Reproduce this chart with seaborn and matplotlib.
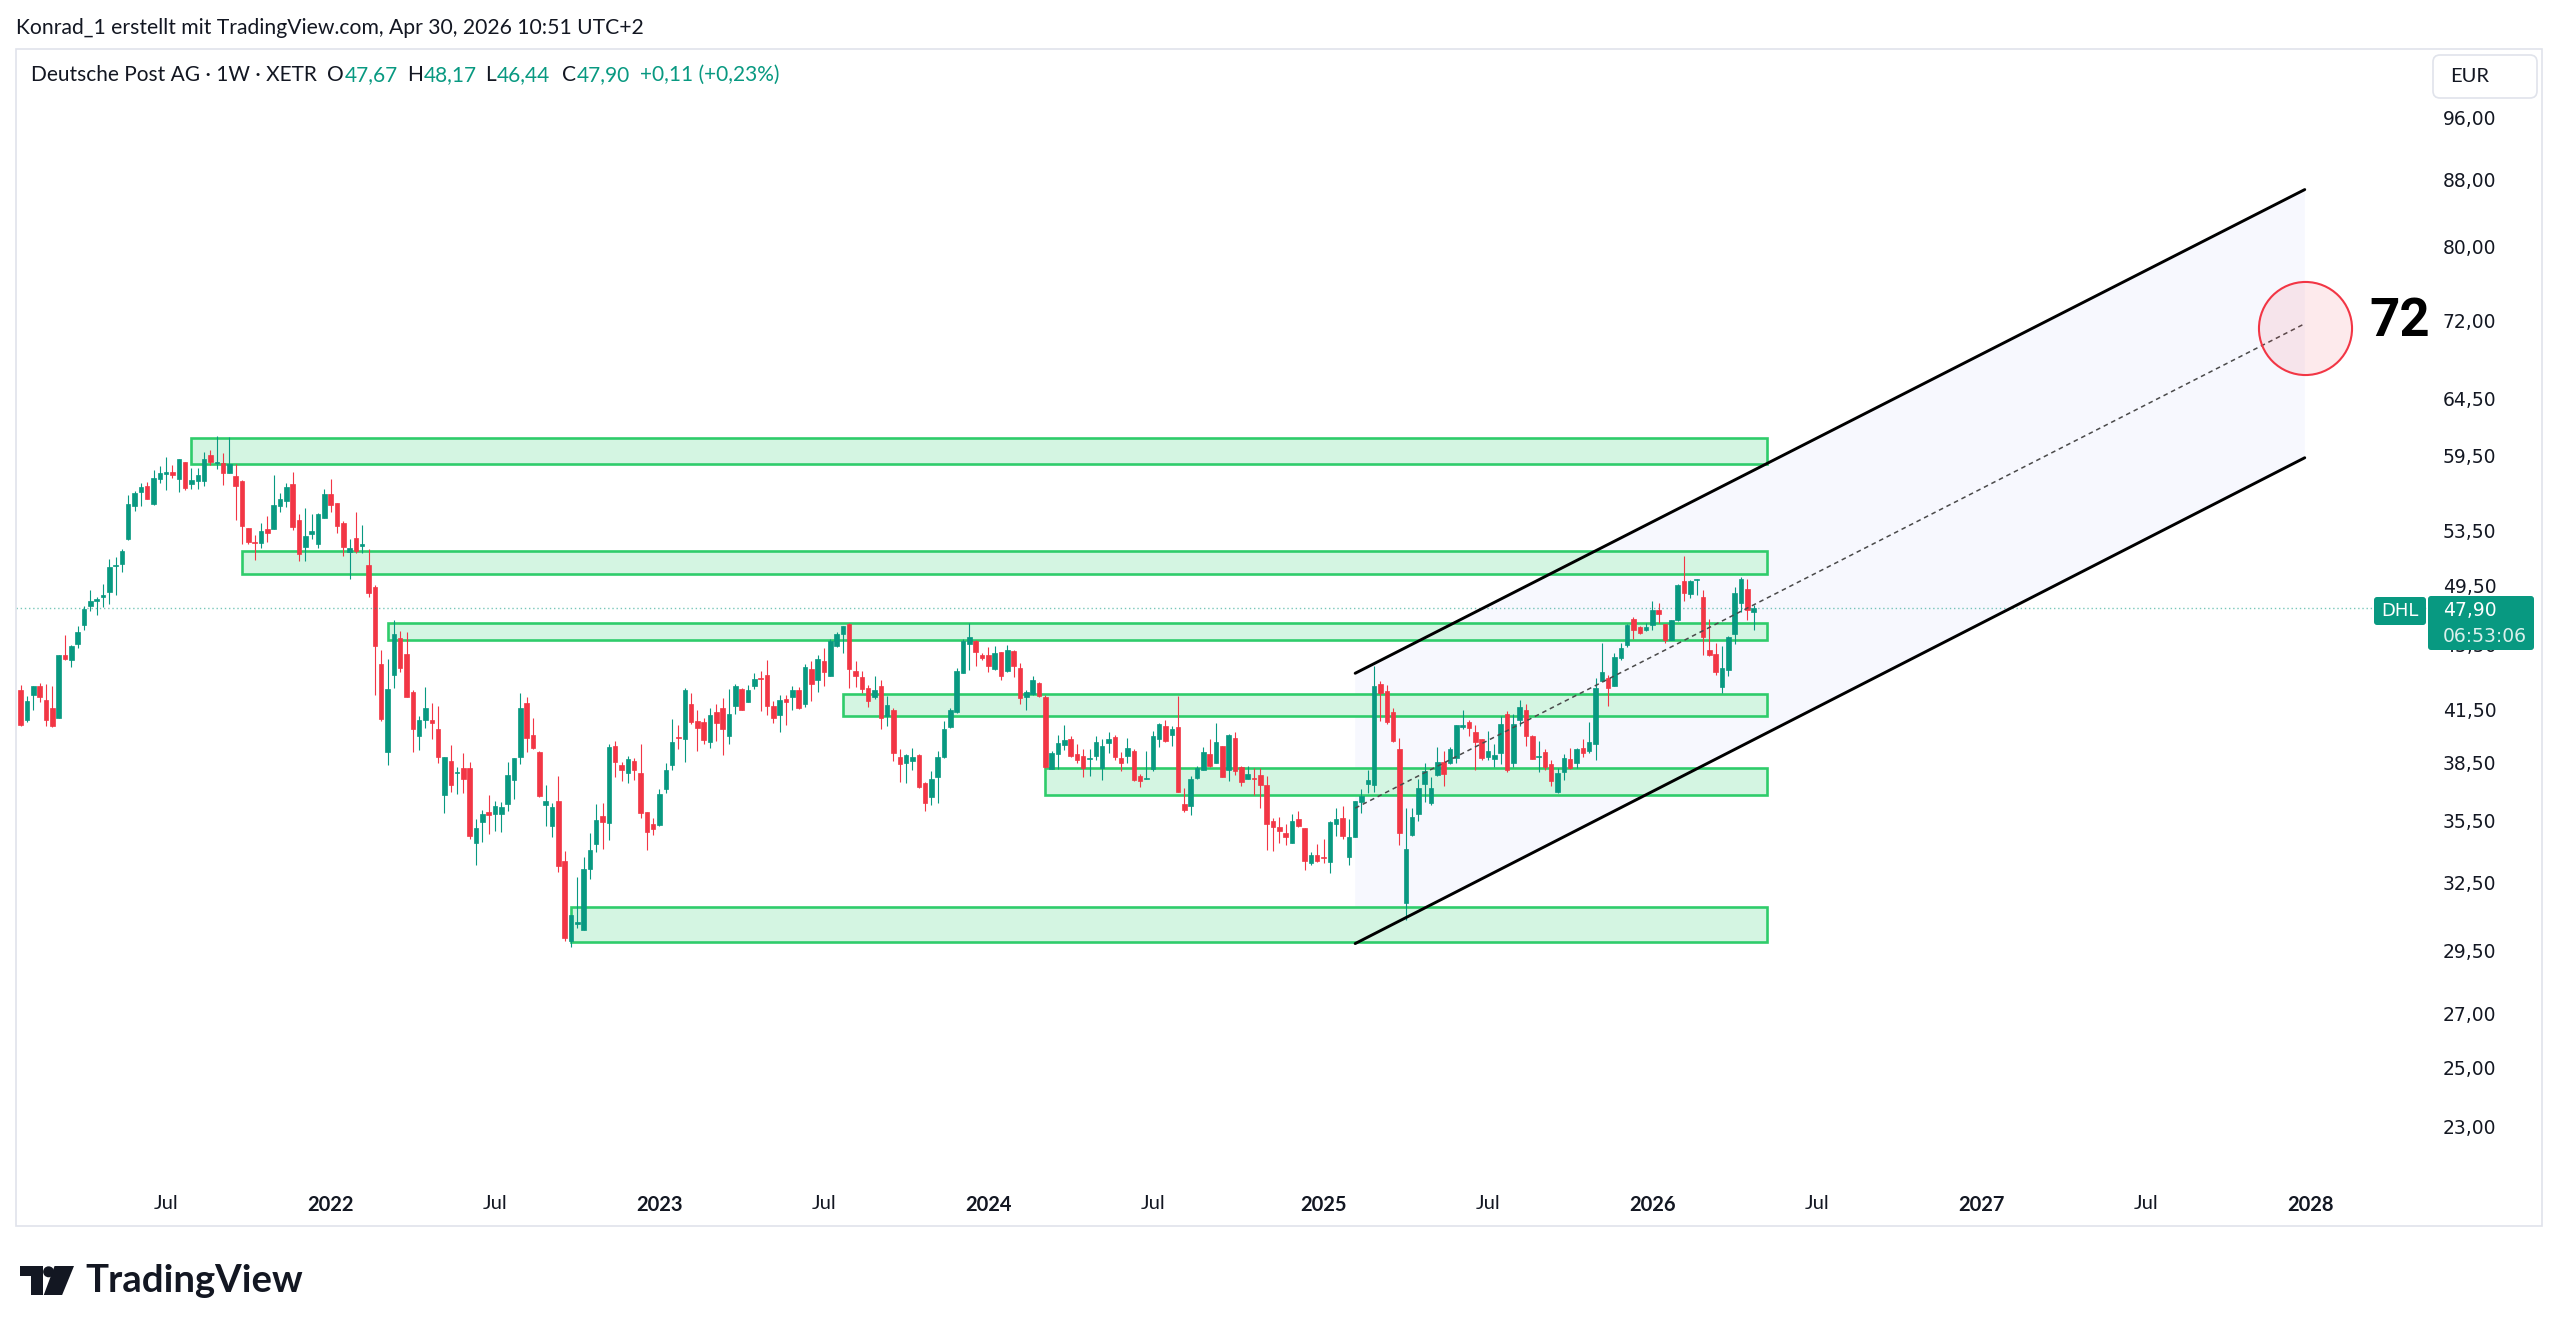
import matplotlib
matplotlib.use("Agg")
import numpy as np
import pandas as pd
import matplotlib.pyplot as plt
import matplotlib.dates as mdates
from matplotlib.patches import Rectangle, Polygon, FancyBboxPatch, Circle
from matplotlib.ticker import NullLocator, FixedLocator, FixedFormatter
from matplotlib.transforms import IdentityTransform
import seaborn as sns

# ---------------- data ----------------
first_week = "2021-01-25"

opens = [
    42.70, 40.89, 42.40, 42.94, 42.10, 41.59, 41.03, 44.85, 44.50, 45.57,
    46.80, 48.05, 48.39, 48.69, 49.03, 50.88, 50.98, 52.84, 55.42, 56.52,
    57.01, 55.55, 57.53, 57.96, 58.15, 57.58, 58.95, 57.14, 57.41, 57.36,
    59.57, 58.85, 58.90, 58.07, 57.80, 57.41, 53.72, 52.66, 52.54, 53.64,
    53.59, 55.39, 55.79, 57.12, 54.32, 52.25, 53.24, 52.49, 54.46, 56.30,
    55.59, 54.05, 51.90, 52.91, 52.30, 50.97, 49.37, 44.28, 39.07, 43.61,
    45.91, 44.90, 42.58, 39.98, 40.90, 40.88, 40.41, 36.76, 38.59, 37.92,
    38.24, 38.21, 34.36, 35.40, 35.90, 35.82, 35.82, 36.31, 37.57, 38.83,
    41.88, 40.06, 39.07, 36.24, 35.18, 36.46, 33.48, 29.89, 30.65, 30.39,
    33.10, 34.33, 35.70, 35.36, 39.45, 38.37, 37.96, 38.57, 37.96, 35.89,
    35.31, 35.24, 37.07, 38.37, 39.94, 39.84, 41.82, 40.83, 40.78, 39.63,
    41.38, 41.61, 40.01, 41.70, 42.76, 41.96, 42.90, 43.43, 43.58, 41.70,
    41.18, 42.16, 42.24, 42.70, 41.86, 43.97, 43.27, 44.45, 43.56, 45.40,
    46.19, 46.86, 43.87, 43.48, 42.78, 42.24, 42.94, 41.12, 41.51, 38.83,
    38.50, 38.61, 38.90, 37.42, 36.69, 37.72, 38.81, 40.49, 41.35, 43.72,
    45.57, 45.77, 44.83, 44.87, 43.97, 45.02, 43.85, 45.13, 44.00, 42.24,
    42.42, 43.11, 42.24, 38.18, 38.99, 39.50, 39.83, 38.96, 38.87, 38.70,
    38.85, 38.23, 39.58, 39.92, 38.77, 38.87, 39.17, 37.78, 37.62, 38.14,
    39.79, 40.54, 40.06, 40.51, 36.30, 36.21, 37.69, 38.10, 38.99, 38.50,
    39.45, 38.10, 39.88, 38.28, 37.64, 37.69, 37.83, 37.30, 35.45, 35.13,
    34.87, 34.38, 35.57, 35.08, 33.42, 33.77, 33.68, 33.47, 35.28, 35.62,
    33.67, 34.67, 36.41, 37.37, 37.28, 43.05, 42.60, 41.38, 39.24, 31.58,
    34.75, 35.79, 37.34, 36.38, 37.83, 38.53, 38.46, 38.77, 40.51, 40.78,
    40.21, 39.83, 38.83, 38.72, 39.05, 41.28, 38.46, 40.93, 41.49, 40.01,
    38.83, 39.08, 38.41, 36.93, 37.99, 38.72, 38.50, 39.30, 39.17, 39.55,
    43.25, 43.41, 42.94, 44.67, 45.51, 47.20, 46.66, 46.45, 46.82, 47.77,
    46.86, 45.83, 47.15, 49.77, 48.89, 49.84, 48.69, 45.19, 44.94, 42.84,
    43.93, 46.21, 48.28, 49.23, 47.67,
]

highs = [
    43.00, 42.34, 42.90, 43.11, 43.05, 42.94, 44.87, 46.16, 45.46, 46.71,
    48.09, 49.14, 48.69, 49.61, 51.37, 51.51, 52.10, 56.26, 56.60, 57.25,
    57.33, 58.24, 58.57, 59.35, 58.70, 59.18, 58.98, 58.43, 58.43, 59.77,
    59.96, 61.17, 59.69, 61.11, 58.76, 57.47, 53.72, 53.16, 54.05, 54.62,
    57.88, 56.39, 57.20, 58.15, 54.79, 55.24, 54.79, 54.85, 56.70, 57.57,
    55.64, 54.19, 52.83, 54.90, 53.91, 52.12, 49.52, 45.18, 44.57, 47.12,
    46.38, 46.34, 42.69, 41.15, 42.84, 41.92, 41.73, 38.83, 39.48, 38.28,
    39.04, 38.53, 35.54, 36.03, 36.78, 36.46, 36.40, 38.55, 38.77, 42.52,
    42.26, 41.04, 39.13, 37.28, 36.36, 37.78, 33.96, 31.05, 32.73, 33.67,
    34.83, 36.32, 36.38, 39.56, 39.69, 38.52, 38.87, 38.75, 39.51, 35.92,
    35.58, 37.07, 38.46, 40.97, 40.60, 42.80, 42.50, 41.51, 41.04, 41.63,
    41.82, 42.22, 42.74, 43.07, 42.82, 43.00, 43.72, 43.83, 44.50, 42.04,
    42.40, 42.40, 42.94, 42.84, 44.29, 44.45, 44.87, 45.31, 45.87, 46.32,
    46.75, 46.93, 44.45, 43.87, 43.00, 43.52, 43.27, 42.30, 41.61, 39.23,
    38.96, 39.32, 38.96, 37.46, 38.03, 39.14, 40.83, 41.61, 44.00, 45.87,
    46.93, 45.83, 45.00, 45.37, 45.45, 45.06, 45.51, 45.15, 44.31, 42.70,
    43.52, 43.19, 42.38, 39.14, 40.04, 40.64, 39.98, 39.56, 39.27, 39.23,
    39.98, 39.79, 40.19, 40.02, 39.08, 39.88, 39.23, 37.87, 39.14, 40.27,
    40.74, 40.89, 40.58, 42.30, 37.12, 37.78, 38.32, 39.36, 39.83, 40.70,
    39.45, 40.10, 40.21, 38.32, 38.32, 38.23, 38.23, 37.78, 35.62, 35.65,
    35.28, 35.78, 35.96, 35.11, 33.94, 34.30, 34.57, 35.45, 36.12, 36.21,
    35.53, 36.49, 37.07, 38.09, 44.14, 43.21, 42.96, 41.61, 39.88, 36.12,
    36.12, 37.60, 38.50, 37.74, 39.36, 39.14, 39.38, 40.64, 41.51, 40.93,
    40.62, 39.83, 40.25, 39.51, 41.13, 41.41, 41.28, 42.10, 41.86, 40.06,
    39.69, 39.23, 38.64, 38.23, 38.96, 39.32, 39.32, 39.83, 40.78, 43.41,
    45.62, 43.62, 44.98, 45.62, 46.89, 47.33, 46.71, 46.93, 48.39, 48.28,
    46.86, 47.15, 49.59, 51.61, 49.89, 49.94, 49.14, 47.20, 45.62, 45.41,
    46.09, 49.37, 50.06, 49.96, 48.17,
]

lows = [
    40.54, 40.80, 41.47, 41.97, 40.58, 40.50, 41.03, 44.52, 44.07, 45.27,
    46.49, 47.73, 47.49, 48.00, 48.21, 48.84, 50.41, 52.79, 55.02, 55.42,
    55.90, 55.50, 57.20, 56.66, 57.61, 56.52, 56.66, 56.74, 56.74, 56.98,
    58.70, 58.35, 57.06, 58.02, 54.26, 52.49, 52.49, 51.27, 52.17, 52.66,
    53.59, 54.95, 55.34, 53.54, 51.20, 51.25, 52.87, 52.22, 54.46, 54.93,
    53.30, 51.59, 49.93, 51.85, 51.83, 48.66, 42.35, 40.87, 38.38, 42.78,
    43.79, 42.26, 39.07, 39.22, 40.43, 39.82, 38.48, 35.85, 36.96, 36.83,
    36.91, 34.57, 33.31, 34.39, 34.78, 34.95, 34.92, 35.96, 36.58, 38.44,
    39.08, 39.26, 36.69, 35.18, 34.66, 32.99, 29.93, 29.64, 30.46, 30.39,
    32.67, 33.95, 34.08, 34.51, 37.74, 37.51, 37.42, 37.56, 35.62, 34.00,
    34.77, 35.19, 36.89, 38.10, 39.27, 38.55, 40.66, 39.14, 39.56, 39.32,
    39.72, 38.91, 39.55, 41.28, 41.49, 41.94, 42.74, 41.41, 41.18, 40.70,
    40.21, 40.60, 41.47, 41.55, 41.65, 42.00, 42.54, 42.90, 43.52, 45.34,
    44.98, 42.80, 42.84, 42.50, 41.65, 42.14, 40.36, 40.54, 38.62, 37.46,
    37.39, 38.09, 37.14, 35.96, 36.25, 36.38, 38.77, 40.45, 41.32, 43.72,
    43.89, 44.18, 44.52, 43.76, 43.93, 43.27, 43.76, 43.48, 41.84, 41.47,
    42.36, 42.26, 38.23, 38.14, 38.18, 39.19, 38.83, 38.50, 37.74, 37.78,
    38.64, 37.56, 39.05, 38.64, 38.03, 38.50, 37.49, 37.21, 37.62, 38.05,
    39.36, 39.64, 39.41, 36.93, 35.91, 35.74, 37.64, 38.09, 38.26, 38.46,
    37.72, 37.51, 37.81, 37.24, 37.60, 36.76, 36.12, 34.02, 33.97, 34.35,
    34.25, 34.35, 35.17, 33.07, 33.29, 33.47, 33.42, 32.94, 34.71, 34.54,
    33.29, 34.67, 35.87, 36.86, 36.93, 40.87, 40.68, 39.64, 34.26, 30.80,
    34.71, 35.45, 36.41, 36.25, 37.78, 37.24, 38.41, 38.50, 40.36, 39.98,
    38.10, 38.64, 38.64, 38.26, 38.41, 37.99, 38.26, 40.54, 39.45, 38.68,
    37.99, 38.10, 37.24, 36.86, 37.56, 38.18, 38.23, 38.83, 39.01, 38.64,
    43.21, 41.74, 42.90, 44.52, 45.36, 45.87, 46.23, 46.38, 46.49, 46.93,
    45.62, 45.83, 47.04, 48.39, 48.61, 48.84, 44.87, 44.77, 43.62, 42.50,
    43.56, 45.55, 47.69, 47.10, 46.44,
]

closes = [
    40.64, 42.04, 42.90, 42.24, 40.93, 40.54, 44.87, 44.60, 45.40, 46.34,
    47.89, 48.41, 48.55, 48.83, 50.79, 50.97, 51.93, 55.53, 56.39, 56.93,
    55.97, 57.61, 58.02, 58.10, 57.85, 59.18, 56.82, 57.47, 57.85, 59.18,
    58.98, 58.93, 58.02, 58.76, 57.01, 53.85, 52.66, 52.59, 53.42, 53.34,
    55.47, 55.92, 56.93, 53.75, 51.77, 53.09, 53.47, 54.74, 56.30, 55.48,
    53.86, 52.27, 52.22, 51.95, 52.49, 48.98, 45.45, 40.94, 42.71, 46.19,
    44.05, 42.26, 40.39, 40.90, 41.60, 40.74, 38.83, 38.83, 37.32, 37.99,
    37.63, 34.69, 35.09, 35.78, 35.73, 36.21, 36.17, 37.82, 38.77, 41.60,
    39.86, 39.31, 36.73, 36.46, 36.17, 33.28, 30.04, 31.01, 30.74, 33.11,
    34.02, 35.49, 35.39, 39.36, 38.54, 38.12, 38.72, 38.10, 35.87, 34.92,
    35.03, 36.84, 38.10, 39.66, 39.88, 42.66, 40.80, 40.45, 39.75, 41.22,
    40.70, 40.40, 41.26, 42.94, 41.51, 42.70, 43.35, 43.35, 41.70, 41.03,
    42.08, 41.94, 42.70, 41.61, 44.07, 43.03, 44.60, 43.79, 45.77, 46.23,
    46.70, 43.97, 43.52, 42.76, 42.00, 42.70, 41.03, 41.80, 39.05, 38.41,
    38.91, 38.83, 37.21, 36.38, 37.60, 38.83, 40.40, 41.51, 43.83, 45.73,
    46.01, 45.02, 44.67, 44.18, 44.98, 43.56, 45.19, 44.14, 42.20, 42.54,
    43.31, 42.34, 38.26, 39.05, 39.60, 39.75, 38.87, 38.63, 38.21, 38.74,
    39.66, 39.45, 39.79, 38.81, 38.46, 39.32, 37.56, 37.51, 37.65, 39.98,
    40.68, 39.69, 40.36, 36.93, 36.01, 37.60, 38.23, 39.08, 38.32, 39.66,
    37.72, 40.06, 38.05, 37.48, 37.87, 37.60, 37.30, 35.31, 35.17, 34.97,
    34.65, 35.45, 35.20, 33.50, 33.77, 33.52, 33.62, 35.40, 35.57, 34.71,
    34.67, 36.49, 36.73, 37.55, 42.90, 42.50, 40.80, 39.69, 34.83, 34.08,
    35.67, 37.16, 38.05, 37.16, 38.53, 37.87, 39.23, 40.64, 40.62, 40.45,
    39.63, 38.77, 39.17, 38.92, 40.68, 38.10, 40.68, 41.65, 40.01, 38.70,
    38.87, 38.28, 37.51, 37.96, 38.77, 38.23, 39.23, 39.05, 39.66, 42.82,
    43.81, 42.80, 44.70, 45.30, 46.82, 46.49, 46.27, 46.64, 47.82, 47.56,
    45.78, 47.15, 49.54, 48.96, 49.80, 49.91, 46.01, 44.87, 43.76, 44.00,
    45.98, 48.96, 49.96, 47.79, 47.90,
]

zone_starts = ["2021-08-02", "2021-09-27", "2022-03-07", "2023-07-24", "2024-03-04", "2022-09-26"]
zone_end = "2026-05-12"
zone_lows = [58.8, 50.3, 45.8, 41.15, 36.8, 29.85]
zone_highs = [61.0, 52.0, 46.9, 42.45, 38.2, 31.4]

channel_dates = ["2025-02-10", "2027-12-28"]
channel_upper = [43.7, 86.7]
channel_lower = [29.8, 59.3]
channel_mid = [36.1, 71.7]

target_date = "2027-12-28"
target_price = 71.3
target_text = "72"
target_text_date = "2028-04-11"
target_text_price = 71.9

last_price = 47.90
price_ticks = [96, 88, 80, 72, 64.5, 59.5, 53.5, 49.5, 45.5, 41.5, 38.5, 35.5, 32.5, 29.5, 27, 25, 23]
price_tick_labels = ["96,00", "88,00", "80,00", "72,00", "64,50", "59,50", "53,50", "49,50", "45,50",
                     "41,50", "38,50", "35,50", "32,50", "29,50", "27,00", "25,00", "23,00"]
time_tick_dates = ["2021-07-05", "2022-01-03", "2022-07-04", "2023-01-02", "2023-07-03", "2024-01-01",
                   "2024-07-01", "2025-01-06", "2025-07-07", "2026-01-05", "2026-07-06", "2027-01-04",
                   "2027-07-05", "2028-01-03"]
time_tick_labels = ["Jul", "2022", "Jul", "2023", "Jul", "2024", "Jul", "2025", "Jul", "2026", "Jul",
                    "2027", "Jul", "2028"]

header_text = "Konrad_1 erstellt mit TradingView.com, Apr 30, 2026 10:51 UTC+2"
title_main = "Deutsche Post AG · 1W · XETR"
ohlc_keys = ["O", "H", "L", "C"]
ohlc_vals = ["47,67", "48,17", "46,44", "47,90"]
change_text = "+0,11 (+0,23%)"
symbol = "DHL"
price_label = "47,90"
countdown = "06:53:06"
currency = "EUR"

# ---------------- style ----------------
sns.set_theme(style="white")
plt.rcParams['font.family'] = ['Lato', 'DejaVu Sans']

UP = "#089981"
DOWN = "#f23645"
TEXT = "#131722"
ZONE_FILL = "#d4f5e2"
ZONE_EDGE = "#2fcc6b"
CHAN_FILL = "#f7f8fe"

W, H = 2560, 1334
fig = plt.figure(figsize=(W / 100, H / 100), dpi=100)
fig.patch.set_facecolor("white")
ID = IdentityTransform()

L_PX, R_PX, T_PX, B_PX = 16, 2427, 49, 1180
ax = fig.add_axes([L_PX / W, 1 - B_PX / H, (R_PX - L_PX) / W, (B_PX - T_PX) / H])
ax.set_facecolor("white")
ax.set_yscale("log")
px_per_day = 0.9035
x_left = mdates.date2num(pd.Timestamp("2021-01-19 19:00"))
x_right = x_left + (R_PX - L_PX) / px_per_day
ax.set_xlim(x_left, x_right)
ax.set_ylim(21.32, 105.8)

def dnum(s):
    return mdates.date2num(pd.Timestamp(s))

# channel fill
cx = [dnum(d) for d in channel_dates]
ax.add_patch(Polygon([(cx[0], channel_upper[0]), (cx[1], channel_upper[1]),
                      (cx[1], channel_lower[1]), (cx[0], channel_lower[0])],
                     closed=True, facecolor=CHAN_FILL, edgecolor="none", zorder=1))

# zones
ze = dnum(zone_end)
for s, lo, hi in zip(zone_starts, zone_lows, zone_highs):
    x0 = dnum(s)
    ax.add_patch(Rectangle((x0, lo), ze - x0, hi - lo, facecolor=ZONE_FILL, edgecolor="none", zorder=2))
    ax.add_patch(Rectangle((x0, lo), ze - x0, hi - lo, facecolor="none", edgecolor=ZONE_EDGE,
                           linewidth=1.9, zorder=2.5))

# candles
dates = pd.date_range(first_week, periods=len(closes), freq="7D")
xd = mdates.date2num(dates.to_pydatetime())
o = np.array(opens); c = np.array(closes); h = np.array(highs); l = np.array(lows)
cols = np.where(c >= o, UP, DOWN)
ax.vlines(xd, l, h, colors=cols, linewidth=0.8, zorder=3)
bot = np.minimum(o, c); top = np.maximum(o, c)
ax.bar(xd, top - bot, bottom=bot, width=5.0, color=cols, edgecolor=cols, linewidth=0.5, zorder=4)

# current price line
ax.axhline(last_price, color=UP, linewidth=1.0, linestyle=(0, (1, 2)), alpha=0.55, zorder=5)

# channel lines
chan = pd.DataFrame({"x": cx * 2, "y": channel_upper + channel_lower,
                     "line": ["u", "u", "l", "l"]})
sns.lineplot(data=chan, x="x", y="y", units="line", estimator=None, color="black",
             linewidth=2.1, ax=ax, legend=False, sort=False, zorder=8)
ax.plot(cx, channel_mid, color="#4a4a4a", linewidth=1.1, dashes=(3, 2.5), zorder=8)

# target circle and label
ax.scatter([dnum(target_date)], [target_price], s=4490, facecolors=[(0.949, 0.212, 0.271, 0.10)],
           edgecolors=[DOWN], linewidths=1.5, zorder=9)
ax.text(dnum(target_text_date), target_text_price, target_text, fontsize=38, fontweight="bold",
        family="Roboto", ha="center", va="center", color="black", zorder=10)

# axes styling
for sp in ax.spines.values():
    sp.set_visible(False)
ax.grid(False)
ax.yaxis.tick_right()
ax.yaxis.set_major_locator(FixedLocator(price_ticks))
ax.yaxis.set_major_formatter(FixedFormatter(price_tick_labels))
ax.yaxis.set_minor_locator(NullLocator())
ax.tick_params(axis="y", length=0, pad=11.5, labelsize=13.5, labelcolor=TEXT)
for lbl in ax.get_yticklabels():
    lbl.set_family("DejaVu Sans")
ax.xaxis.set_major_locator(FixedLocator([dnum(d) for d in time_tick_dates]))
ax.xaxis.set_major_formatter(FixedFormatter(time_tick_labels))
ax.xaxis.set_minor_locator(NullLocator())
ax.tick_params(axis="x", length=0, pad=11, labelsize=14.5, labelcolor=TEXT)
for lbl in ax.get_xticklabels():
    if lbl.get_text().isdigit():
        lbl.set_fontweight("bold")
ax.set_xlabel(""); ax.set_ylabel("")

# outer frame
fig.add_artist(Rectangle((16, H - 1226), 2542 - 16, 1226 - 49, transform=ID, fill=False,
                         edgecolor="#e0e3eb", linewidth=1.2))

# header
fig.text(16, H - 28, header_text, transform=ID, fontsize=15.2, color=TEXT, va="center", ha="left")

renderer = fig.canvas.get_renderer()
ty = H - 75
fig.text(31, ty, title_main, transform=ID, fontsize=15, color=TEXT, va="center", ha="left")
starts = [327, 407, 485, 562]
for k, v, sx in zip(ohlc_keys, ohlc_vals, starts):
    t = fig.text(sx, ty, k, transform=ID, fontsize=15, color=TEXT, va="center", ha="left")
    wk = t.get_window_extent(renderer).width
    fig.text(sx + wk + 1, ty, v, transform=ID, fontsize=15, color=UP, va="center", ha="left")
fig.text(640, ty, change_text, transform=ID, fontsize=15, color=UP, va="center", ha="left")

# currency box
fig.add_artist(FancyBboxPatch((2433, H - 98), 104, 43, boxstyle="round,pad=0,rounding_size=7",
                              transform=ID, facecolor="white", edgecolor="#e0e3eb", linewidth=1.2))
fig.text(2470, H - 77, currency, transform=ID, fontsize=14.5, color=TEXT, va="center", ha="center")

# symbol & price labels
fig.add_artist(FancyBboxPatch((2374, H - 625), 52, 28, boxstyle="round,pad=0,rounding_size=3",
                              transform=ID, facecolor=UP, edgecolor="none"))
fig.text(2400, H - 611, symbol, transform=ID, fontsize=13, color="white", va="center", ha="center",
         family="DejaVu Sans")
fig.add_artist(FancyBboxPatch((2428, H - 650), 106, 54, boxstyle="round,pad=0,rounding_size=3",
                              transform=ID, facecolor=UP, edgecolor="none"))
fig.text(2443, H - 610, price_label, transform=ID, fontsize=13.5, color="white", va="center",
         ha="left", family="DejaVu Sans")
fig.text(2443, H - 636, countdown, transform=ID, fontsize=13.5, color=(1, 1, 1, 0.85), va="center",
         ha="left", family="DejaVu Sans")

# TradingView logo
lx, ly, lw_, lh = 20, 1266, 54, 29
def lp(u, v):
    return (lx + u * lw_, H - (ly + v * lh))
fig.add_artist(Polygon([lp(0, 0), lp(0.42, 0), lp(0.42, 1), lp(0.2, 1), lp(0.2, 0.36), lp(0, 0.36)],
                       closed=True, transform=ID, facecolor=TEXT, edgecolor="none"))
fig.add_artist(Circle(lp(0.53, 0.2), 5.5, transform=ID, facecolor=TEXT, edgecolor="none"))
fig.add_artist(Polygon([lp(0.64, 0), lp(1.0, 0), lp(0.78, 1), lp(0.44, 1)], closed=True,
                       transform=ID, facecolor=TEXT, edgecolor="none"))
fig.text(85, H - 1281, "TradingView", transform=ID, fontsize=27.5, fontweight="bold", color=TEXT,
         va="center", ha="left")

fig.savefig("out.png", dpi=100, facecolor="white")
